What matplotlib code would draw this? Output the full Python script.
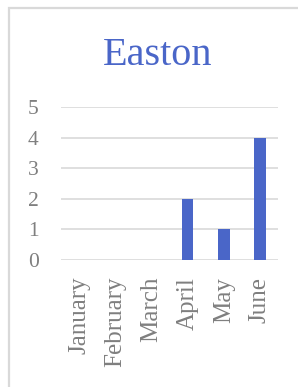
import matplotlib.pyplot as plt
from matplotlib.patches import Rectangle

months = ['January', 'February', 'March', 'April', 'May', 'June']
values = [0, 0, 0, 2, 1, 4]
yticks = [0, 1, 2, 3, 4, 5]

plt.rcParams['font.family'] = ['Liberation Serif', 'DejaVu Serif']

fig = plt.figure(figsize=(2.98, 3.87), dpi=100)
fig.patch.set_facecolor('white')

# chart border (runs off the right and bottom edges)
fig.patches.append(Rectangle((9 / 298, -0.1), 1.2, 1 - 8 / 387 + 0.1, transform=fig.transFigure,
                             fill=False, edgecolor='#d9d9d9', linewidth=1.6))

ax = fig.add_axes([61 / 298, 1 - 260 / 387, 217 / 298, 153 / 387])
x = list(range(len(months)))
ax.bar(x, values, width=0.32, color='#4a66c8', zorder=3)
ax.set_xlim(-0.5, len(months) - 0.5)
ax.set_ylim(0, 5)
ax.set_yticks(yticks)
ax.set_xticks(x)
ax.set_xticklabels(months, rotation=90, fontsize=18, color='#7f7f7f')
ax.set_yticklabels([str(v) for v in yticks], fontsize=15.5, color='#7f7f7f')
ax.tick_params(axis='both', length=0)
ax.tick_params(axis='y', pad=16)
ax.tick_params(axis='x', pad=12)
ax.grid(axis='y', color='#d9d9d9', linewidth=1.2, zorder=0)
ax.set_axisbelow(True)
for s in ax.spines.values():
    s.set_visible(False)

fig.text(158 / 298, 1 - 65 / 387, 'Easton', ha='center', va='baseline',
         fontsize=29, color='#4a66c8')

fig.savefig('out.png', dpi=100)
